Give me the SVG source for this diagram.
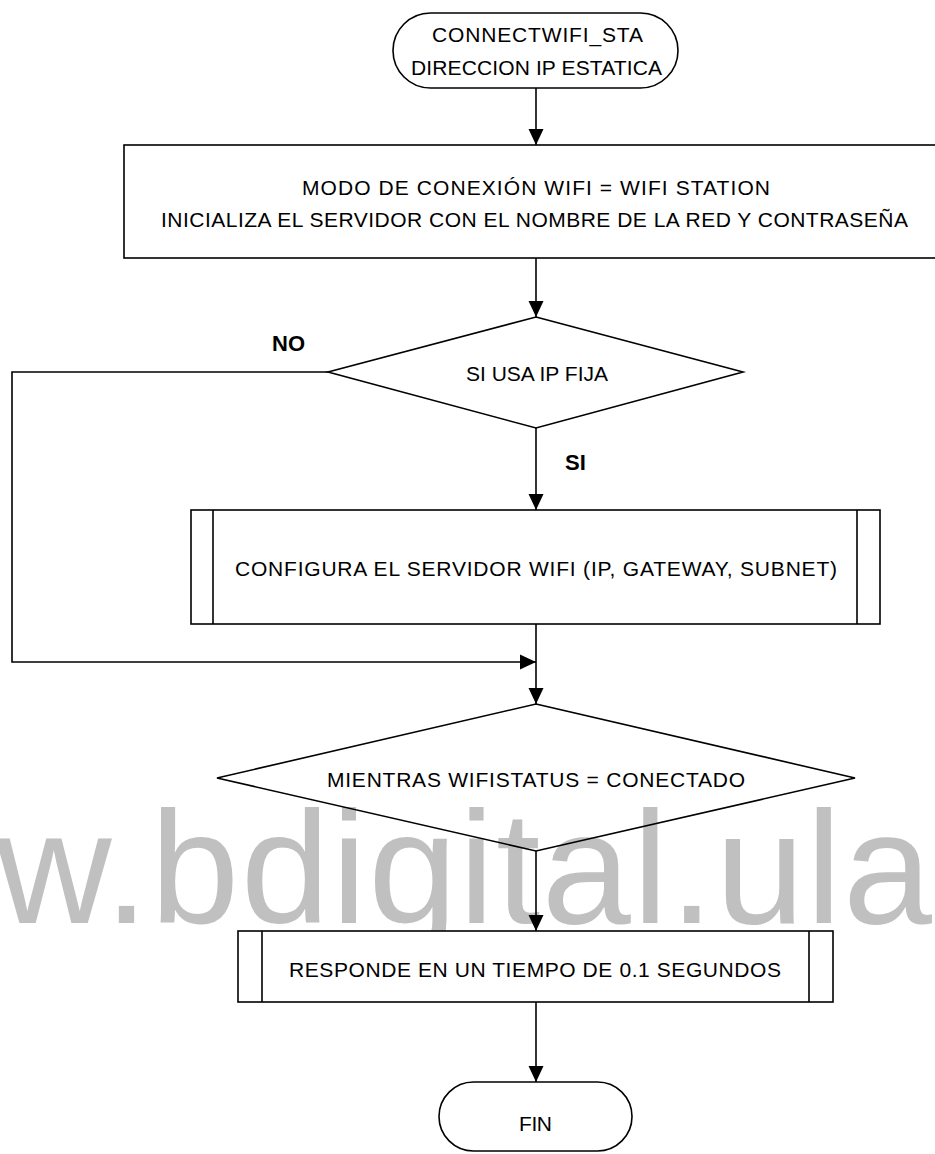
<svg xmlns="http://www.w3.org/2000/svg" width="935" height="1154" viewBox="0 0 935 1154">
  <style>
    .shape { fill: #ffffff; stroke: #000000; stroke-width: 1.6; }
    .open { fill: none; stroke: #000000; stroke-width: 1.6; }
    .edge { fill: none; stroke: #000000; stroke-width: 1.6; marker-end: url(#arrow); }
    .label { font-family: "Liberation Sans", Arial, sans-serif; font-size: 21px; fill: #000000; }
    .tag { font-family: "Liberation Sans", Arial, sans-serif; font-size: 22px; font-weight: bold; fill: #000000; }
    .mark { font-family: "Liberation Sans", Arial, sans-serif; font-size: 160px; fill: #c0c0c0; }
  </style>
  <defs>
    <marker id="arrow" markerUnits="userSpaceOnUse" markerWidth="16" markerHeight="16" viewBox="0 0 16 16" refX="16" refY="8" orient="auto">
      <path d="M0,0.5 L16,8 L0,15.5 Z" fill="#000000"/>
    </marker>
  </defs>

  <rect width="935" height="1154" fill="#ffffff"/>

  <!-- background watermark -->
  <text class="mark" x="-4" y="923" textLength="936">w.bdigital.ula</text>

  <!-- connectors -->
  <g id="connectors">
    <line class="edge" x1="536" y1="88" x2="536" y2="145"/>
    <line class="edge" x1="536" y1="258" x2="536" y2="317"/>
    <line class="edge" x1="536" y1="428" x2="536" y2="510"/>
    <line class="edge" x1="536" y1="624" x2="536" y2="704"/>
    <polyline class="edge" points="328,372 12,372 12,662 536,662"/>
    <line class="edge" x1="536" y1="851" x2="536" y2="931"/>
    <line class="edge" x1="536" y1="1002" x2="536" y2="1082"/>
    <text class="tag" x="272" y="351">NO</text>
    <text class="tag" x="565" y="470">SI</text>
  </g>

  <!-- start terminator -->
  <g id="start">
    <rect class="shape" x="393" y="13" width="285" height="75" rx="37.5" ry="37.5"/>
    <text class="label" x="432" y="42" textLength="211">CONNECTWIFI_STA</text>
    <text class="label" x="411" y="75" textLength="251">DIRECCION IP ESTATICA</text>
  </g>

  <!-- wifi station setup -->
  <g id="setup">
    <rect class="shape" x="124" y="145" width="840" height="113"/>
    <text class="label" x="302" y="195" textLength="468">MODO DE CONEXIÓN WIFI = WIFI STATION</text>
    <text class="label" x="161" y="227" textLength="747">INICIALIZA EL SERVIDOR CON EL NOMBRE DE LA RED Y CONTRASEÑA</text>
  </g>

  <!-- fixed IP decision -->
  <g id="fixed-ip">
    <polygon class="shape" points="536,317 743,372 536,428 328,372"/>
    <text class="label" x="537" y="381" text-anchor="middle">SI USA IP FIJA</text>
  </g>

  <!-- wifi server configuration subroutine -->
  <g id="configure">
    <rect class="shape" x="191" y="510" width="689" height="114"/>
    <line class="open" x1="213" y1="510" x2="213" y2="624"/>
    <line class="open" x1="857" y1="510" x2="857" y2="624"/>
    <text class="label" x="235" y="576" textLength="602">CONFIGURA EL SERVIDOR WIFI (IP, GATEWAY, SUBNET)</text>
  </g>

  <!-- connection loop -->
  <g id="while-connected">
    <polygon class="open" points="536,704 855,778 536,851 217,778"/>
    <text class="label" x="327" y="787" textLength="418">MIENTRAS WIFISTATUS = CONECTADO</text>
  </g>

  <!-- response delay subroutine -->
  <g id="respond">
    <rect class="shape" x="238" y="931" width="595" height="71"/>
    <line class="open" x1="262" y1="931" x2="262" y2="1002"/>
    <line class="open" x1="809" y1="931" x2="809" y2="1002"/>
    <text class="label" x="289" y="977" textLength="492">RESPONDE EN UN TIEMPO DE 0.1 SEGUNDOS</text>
  </g>

  <!-- end terminator -->
  <g id="end">
    <rect class="shape" x="439" y="1082" width="193" height="69" rx="34.5" ry="34.5"/>
    <text class="label" x="519" y="1131" textLength="33">FIN</text>
  </g>
</svg>
